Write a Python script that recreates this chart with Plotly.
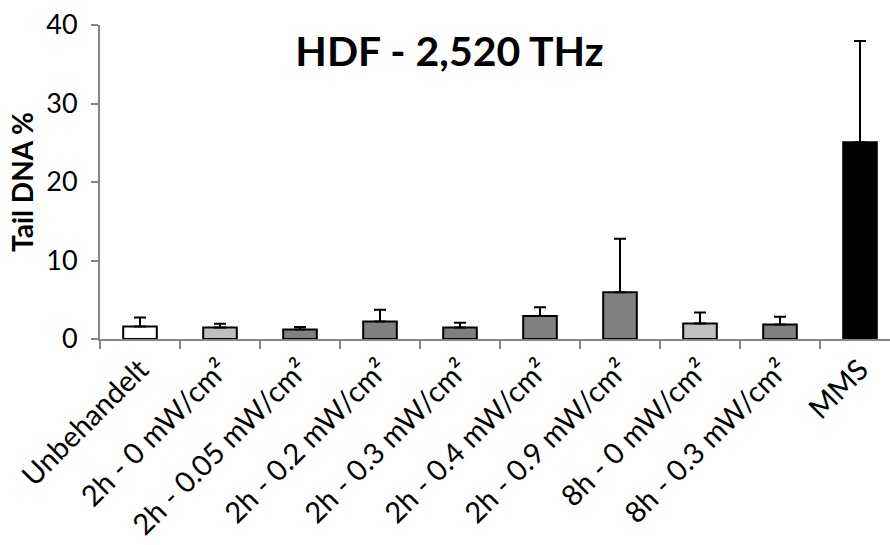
import plotly.graph_objects as go

# Comet assay results: tail DNA percentage per treatment group
categories = [
    "Unbehandelt",
    "2h - 0 mW/cm²",
    "2h - 0.05 mW/cm²",
    "2h - 0.2 mW/cm²",
    "2h - 0.3 mW/cm²",
    "2h - 0.4 mW/cm²",
    "2h - 0.9 mW/cm²",
    "8h - 0 mW/cm²",
    "8h - 0.3 mW/cm²",
    "MMS",
]
tail_dna = [1.6, 1.48, 1.22, 2.24, 1.48, 2.93, 5.94, 1.99, 1.86, 25.05]
upper_err = [1.15, 0.47, 0.31, 1.49, 0.6, 1.1, 6.84, 1.4, 0.98, 12.91]
bar_colors = ["#FFFFFF", "#C0C0C0", "#808080", "#808080", "#808080",
              "#808080", "#808080", "#C0C0C0", "#808080", "#000000"]

y_ticks = [0, 10, 20, 30, 40]

fig = go.Figure()
fig.add_trace(go.Bar(
    x=categories,
    y=tail_dna,
    width=0.42,
    marker=dict(color=bar_colors, line=dict(color="#000000", width=2)),
    error_y=dict(type="data", symmetric=False, array=upper_err,
                 arrayminus=[0] * len(upper_err),
                 color="#000000", thickness=2, width=6),
    showlegend=False,
))

axis_gray = "#868686"
font_family = "Lato, 'Open Sans', sans-serif"
fig.update_layout(
    width=890, height=545,
    margin=dict(l=100, r=0, t=25, b=206, autoexpand=False),
    paper_bgcolor="#FFFFFF",
    plot_bgcolor="#FFFFFF",
    font=dict(family=font_family, color="#000000", size=27),
    title=dict(text="<b>HDF - 2,520 THz</b>", x=0.505, xanchor="center",
               y=0.905, yanchor="middle",
               font=dict(size=41, family=font_family)),
    xaxis=dict(
        range=[-0.5, 9.375], automargin=False,
        showline=True, linecolor=axis_gray, linewidth=2,
        ticks="outside", tickson="boundaries", ticklen=8,
        tickcolor=axis_gray, tickwidth=2,
        tickangle=-45, tickfont=dict(size=29),
        showgrid=False, zeroline=False,
    ),
    yaxis=dict(
        range=[0, 40], tickvals=y_ticks, automargin=False,
        showline=True, linecolor=axis_gray, linewidth=2,
        ticks="outside", ticklen=7, tickcolor=axis_gray, tickwidth=2,
        tickfont=dict(size=27), ticklabelstandoff=8,
        showgrid=False, zeroline=False,
        title=dict(text="<b>Tail DNA %</b>", font=dict(size=28), standoff=4),
    ),
)

fig.write_html("out.html")
